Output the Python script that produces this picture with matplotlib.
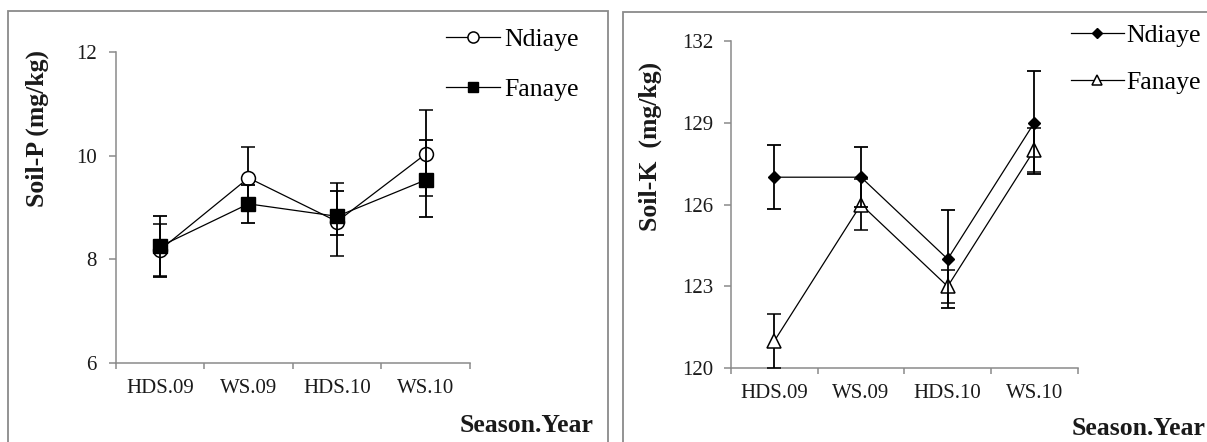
import numpy as np
import matplotlib
matplotlib.use("Agg")
import matplotlib.pyplot as plt
from matplotlib.patches import Rectangle

plt.rcParams['font.family'] = ['Liberation Serif', 'DejaVu Serif']

# ---------------- data ----------------
seasons = ["HDS.09", "WS.09", "HDS.10", "WS.10"]

# Soil-P (mg/kg)
p_ndiaye = [8.18, 9.57, 8.73, 10.03]
p_ndiaye_lo = [0.50, 0.60, 0.67, 0.80]
p_ndiaye_hi = [0.50, 0.60, 0.75, 0.84]
p_fanaye = [8.25, 9.07, 8.83, 9.53]
p_fanaye_lo = [0.58, 0.37, 0.35, 0.71]
p_fanaye_hi = [0.58, 0.37, 0.49, 0.77]

# Soil-K (mg/kg)
k_ndiaye = [127.0, 127.0, 124.0, 129.0]
k_ndiaye_err = [1.17, 1.10, 1.80, 1.90]
k_fanaye = [121.0, 126.0, 123.0, 128.0]
k_fanaye_err = [1.00, 0.95, 0.60, 0.82]

p_ticks = [6, 8, 10, 12]
k_ticks = [120, 123, 126, 129, 132]

# ---------------- figure ----------------
W, H = 1207, 442
fig = plt.figure(figsize=(W / 100, H / 100), dpi=100)

def fx(px):
    return px / W

def fy(py):
    return 1 - py / H

SPINE = '#8a8a8a'
TXT = '#1a1a1a'
SERIF = ['Liberation Serif', 'DejaVu Serif']

# panel borders
fig.add_artist(Rectangle((fx(8), fy(460)), fx(607.7) - fx(8), fy(11) - fy(460),
                         transform=fig.transFigure, fill=False, edgecolor=SPINE, linewidth=1.3))
fig.add_artist(Rectangle((fx(623.3), fy(460)), fx(1230) - fx(623.3), fy(11.5) - fy(460),
                         transform=fig.transFigure, fill=False, edgecolor=SPINE, linewidth=1.3))

axP = fig.add_axes([fx(115.6), fy(363.3), fx(470) - fx(115.6), fy(51.7) - fy(363.3)])
axK = fig.add_axes([fx(731), fy(368.3), fx(1077.7) - fx(731), fy(40.7) - fy(368.3)])

x = np.arange(len(seasons))

def style_axis(ax, yticks, ylim, ypad):
    ax.set_xlim(-0.5, len(seasons) - 0.5)
    ax.set_ylim(*ylim)
    ax.set_yticks(yticks)
    ax.set_xticks(x, seasons)
    ax.set_xticks(np.arange(-0.5, len(seasons), 1.0), minor=True)
    for s in ['top', 'right']:
        ax.spines[s].set_visible(False)
    for s in ['left', 'bottom']:
        ax.spines[s].set_color(SPINE)
        ax.spines[s].set_linewidth(1.1)
    ax.tick_params(axis='x', which='major', length=0, pad=11, labelsize=15, labelcolor=TXT)
    ax.tick_params(axis='x', which='minor', length=4, width=1.1, color=SPINE, direction='out')
    ax.tick_params(axis='y', which='major', length=5, width=1.1, color=SPINE, direction='out',
                   pad=ypad, labelsize=15, labelcolor=TXT)
    ax.patch.set_alpha(0)

style_axis(axP, p_ticks, (6, 12), 8.5)
style_axis(axK, k_ticks, (120, 132), 7.5)

# ---- Soil-P panel ----
ebkw = dict(ecolor='black', elinewidth=1.3, capsize=5, capthick=1.3, color='black', linewidth=0.9)
ebPn = axP.errorbar(x, p_ndiaye, yerr=[p_ndiaye_lo, p_ndiaye_hi], marker='o', markersize=10,
                    markerfacecolor='white', markeredgecolor='black', markeredgewidth=1.1,
                    zorder=3, **ebkw)
ebPf = axP.errorbar(x, p_fanaye, yerr=[p_fanaye_lo, p_fanaye_hi], marker='s', markersize=9.5,
                    markerfacecolor='black', markeredgecolor='black',
                    zorder=4, **ebkw)

# ---- Soil-K panel ----
ebKf = axK.errorbar(x, k_fanaye, yerr=k_fanaye_err, marker='^', markersize=9.5,
                    markerfacecolor='white', markeredgecolor='black', markeredgewidth=1.1,
                    zorder=3, **ebkw)
ebKn = axK.errorbar(x, k_ndiaye, yerr=k_ndiaye_err, marker='D', markersize=6,
                    markerfacecolor='black', markeredgecolor='black',
                    zorder=4, **ebkw)

# legends (data lines only, no error bars)
legP = fig.legend([ebPn[0], ebPf[0]], ["Ndiaye", "Fanaye"], loc='center left',
                  bbox_to_anchor=(fx(446), fy(64.5)),
                  frameon=False, prop={'family': SERIF, 'size': 18.5},
                  handlelength=2.1, handletextpad=0.15,
                  labelspacing=1.05, borderpad=0, borderaxespad=0, markerscale=0.8)
legK = fig.legend([ebKn[0], ebKf[0]], ["Ndiaye", "Fanaye"], loc='center left',
                  bbox_to_anchor=(fx(1071), fy(59)),
                  frameon=False, prop={'family': SERIF, 'size': 18.5},
                  handlelength=2.05, handletextpad=0.1,
                  labelspacing=0.9, borderpad=0, borderaxespad=0, markerscale=0.8)

# axis titles
fig.text(fx(37), fy(128.3), "Soil-P (mg/kg)", rotation=90, ha='center', va='center',
         fontsize=18.5, fontweight='bold', color=TXT, family=SERIF)
fig.text(fx(650), fy(146.5), "Soil-K  (mg/kg)", rotation=90, ha='center', va='center',
         fontsize=18.5, fontweight='bold', color=TXT, family=SERIF)
fig.text(fx(459.3), fy(425), "Season.Year", ha='left', va='center',
         fontsize=18.5, fontweight='bold', color=TXT, family=SERIF)
fig.text(fx(1071.7), fy(428.3), "Season.Year", ha='left', va='center',
         fontsize=18.5, fontweight='bold', color=TXT, family=SERIF)

fig.savefig("out.png", dpi=100)
